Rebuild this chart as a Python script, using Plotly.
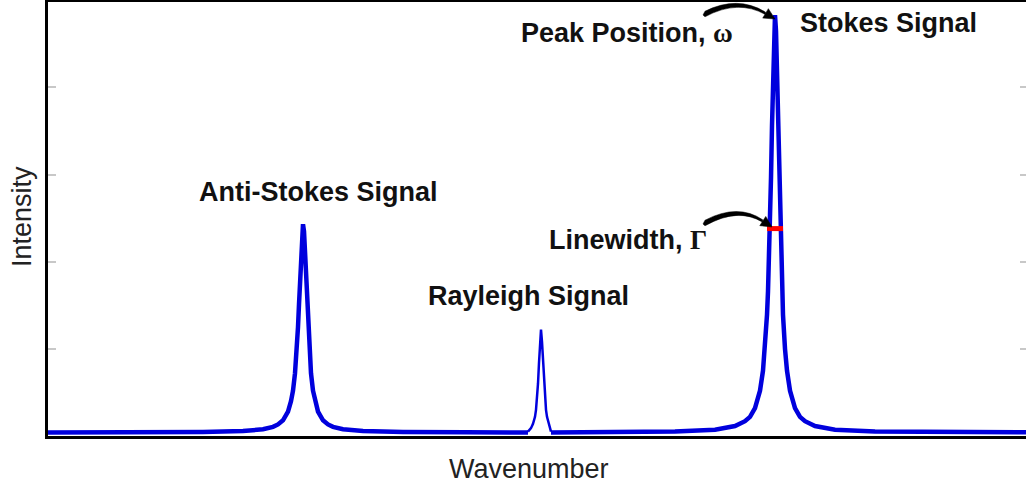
import plotly.graph_objects as go

# ---------------- data ----------------
# relative wavenumber (arbitrary units) and intensity (arbitrary units)
anti_stokes_x = [-986, -800, -676, -596, -556, -536, -526, -516, -506, -500,
                 -496, -492, -490, -488, -486, -484, -482, -480, -478, -476,
                 -474, -472, -470, -468, -466, -464, -462, -460, -456, -452,
                 -446, -436, -426, -416, -396, -356, -276, -150, -26]
anti_stokes_y = [0.041, 0.042, 0.046, 0.057, 0.077, 0.105, 0.133, 0.18, 0.28, 0.40,
                 0.52, 0.72, 0.85, 1.03, 1.25, 1.51, 1.81, 2.12, 2.35, 2.43,
                 2.35, 2.12, 1.81, 1.51, 1.25, 1.03, 0.85, 0.72, 0.52, 0.40,
                 0.28, 0.18, 0.133, 0.105, 0.077, 0.057, 0.046, 0.042, 0.041]

rayleigh_x = [-26, -20, -16, -12, -10, -8, -6, -4, -2, 0,
              2, 4, 6, 8, 10, 12, 16, 20]
rayleigh_y = [0.05, 0.09, 0.14, 0.22, 0.30, 0.42, 0.60, 0.84, 1.08, 1.22,
              1.08, 0.84, 0.60, 0.42, 0.30, 0.22, 0.12, 0.05]

stokes_x = [20, 100, 268, 348, 388, 408, 418, 428, 438, 444,
            448, 452, 454, 456, 458, 460, 462, 464, 466, 468,
            470, 472, 474, 476, 478, 480, 482, 484, 488, 492,
            498, 508, 518, 528, 548, 588, 668, 800, 970]
stokes_y = [0.041, 0.044, 0.052, 0.073, 0.114, 0.17, 0.22, 0.32, 0.52, 0.75,
            1.00, 1.39, 1.66, 2.00, 2.44, 2.96, 3.56, 4.17, 4.65, 4.83,
            4.65, 4.17, 3.56, 2.96, 2.44, 2.00, 1.66, 1.39, 1.00, 0.75,
            0.52, 0.32, 0.22, 0.17, 0.114, 0.073, 0.052, 0.044, 0.042]

linewidth_x = [452, 484]
linewidth_y = [2.38, 2.38]

y_tick_values = [1, 2, 3, 4]
x_range = [-986, 970]
y_range = [0, 4.98]

label_texts = [
    "Peak Position, <span style='font-family:Liberation Serif'>ω</span>",
    "Stokes Signal",
    "Anti-Stokes Signal",
    "Rayleigh Signal",
    "Linewidth, <span style='font-family:Liberation Serif'>Γ</span>",
]
x_title = "Wavenumber"
y_title = "Intensity"

# ---------------- layout geometry ----------------
W, H = 1026, 490
L, R, T, B = 48, 0, 2, 54
PW = W - L - R
PH = H - T - B


def pxx(v):
    return (v - L) / PW


def pxy(v):
    return (H - B - v) / PH


BLUE = "#0000DD"

fig = go.Figure()
fig.add_trace(go.Scatter(
    x=anti_stokes_x + [None] + stokes_x,
    y=anti_stokes_y + [None] + stokes_y,
    mode="lines", line=dict(color=BLUE, width=4.5),
    connectgaps=False, hoverinfo="skip", showlegend=False))
fig.add_trace(go.Scatter(
    x=rayleigh_x, y=rayleigh_y, mode="lines",
    line=dict(color=BLUE, width=2.5), hoverinfo="skip", showlegend=False))
fig.add_trace(go.Scatter(
    x=linewidth_x, y=linewidth_y, mode="lines", yaxis="y2",
    line=dict(color="#FF0000", width=5), hoverinfo="skip", showlegend=False))

# ---------------- curved arrows ----------------
shapes = []


def curved_arrow(tail, ctrl, tip, head_len=11, head_half=5.5):
    dx, dy = tip[0] - ctrl[0], tip[1] - ctrl[1]
    n = (dx * dx + dy * dy) ** 0.5
    ux, uy = dx / n, dy / n
    bx, by = tip[0] - head_len * ux, tip[1] - head_len * uy
    nx, ny = -uy, ux
    # tapered body (thick at tail, thin at head)
    t0, tc, t1 = 2.8, 2.0, 1.2
    body = (f"M {pxx(tail[0]-2)},{pxy(tail[1]+1)} "
            f"L {pxx(tail[0])},{pxy(tail[1]-t0)} "
            f"Q {pxx(ctrl[0])},{pxy(ctrl[1]-tc)} {pxx(bx)},{pxy(by-t1)} "
            f"L {pxx(bx)},{pxy(by+t1)} "
            f"Q {pxx(ctrl[0])},{pxy(ctrl[1]+tc)} {pxx(tail[0])},{pxy(tail[1]+t0)} Z")
    shapes.append(dict(type="path", path=body, xref="paper", yref="paper",
                       fillcolor="black", line=dict(color="black", width=0.5)))
    head = (f"M {pxx(tip[0])},{pxy(tip[1])} "
            f"L {pxx(bx + head_half*nx)},{pxy(by + head_half*ny)} "
            f"L {pxx(bx - head_half*nx)},{pxy(by - head_half*ny)} Z")
    shapes.append(dict(type="path", path=head, xref="paper", yref="paper",
                       fillcolor="black", line=dict(color="black", width=0.5)))


curved_arrow((705, 14), (738, -3), (775, 19))
curved_arrow((705, 223), (738, 205), (772, 227))

# ---------------- annotations ----------------
label_pos = [(627, 33), (888, 23), (318, 192), (528, 296), (628, 240)]
annotations = []
for txt, (x, y) in zip(label_texts, label_pos):
    annotations.append(dict(text="<b>" + txt + "</b>", x=pxx(x), y=pxy(y),
                            xref="paper", yref="paper",
                            xanchor="center", yanchor="middle", showarrow=False,
                            font=dict(family="Liberation Sans, Arial", size=27, color="#111111")))
annotations.append(dict(text=x_title, x=pxx(529), y=pxy(469), xref="paper", yref="paper",
                        xanchor="center", yanchor="middle", showarrow=False,
                        font=dict(family="Liberation Sans, Arial", size=27, color="#222222")))
annotations.append(dict(text=y_title, x=pxx(22), y=pxy(217), xref="paper", yref="paper",
                        xanchor="center", yanchor="middle", showarrow=False, textangle=-90,
                        font=dict(family="Liberation Sans, Arial", size=27, color="#222222")))

fig.update_layout(
    width=W, height=H,
    margin=dict(l=L, r=R, t=T, b=B, pad=0),
    paper_bgcolor="white", plot_bgcolor="white",
    showlegend=False,
    xaxis=dict(range=x_range, showline=True, linecolor="black", linewidth=2.5,
               mirror=True, ticks="", showticklabels=False, showgrid=False,
               zeroline=False, fixedrange=True),
    yaxis=dict(range=y_range, showline=True, linecolor="black", linewidth=2.5,
               ticks="inside", tickvals=y_tick_values, ticklen=8, tickwidth=1.5,
               tickcolor="#c8c8c8", showticklabels=False, showgrid=False,
               zeroline=False, fixedrange=True),
    yaxis2=dict(range=y_range, overlaying="y", side="right", showline=False,
                ticks="inside", tickvals=y_tick_values, ticklen=6, tickwidth=1.5,
                tickcolor="#c8c8c8", showticklabels=False, showgrid=False,
                zeroline=False, fixedrange=True),
    shapes=shapes,
    annotations=annotations,
)

fig.write_html("out.html", config={"displayModeBar": False})
